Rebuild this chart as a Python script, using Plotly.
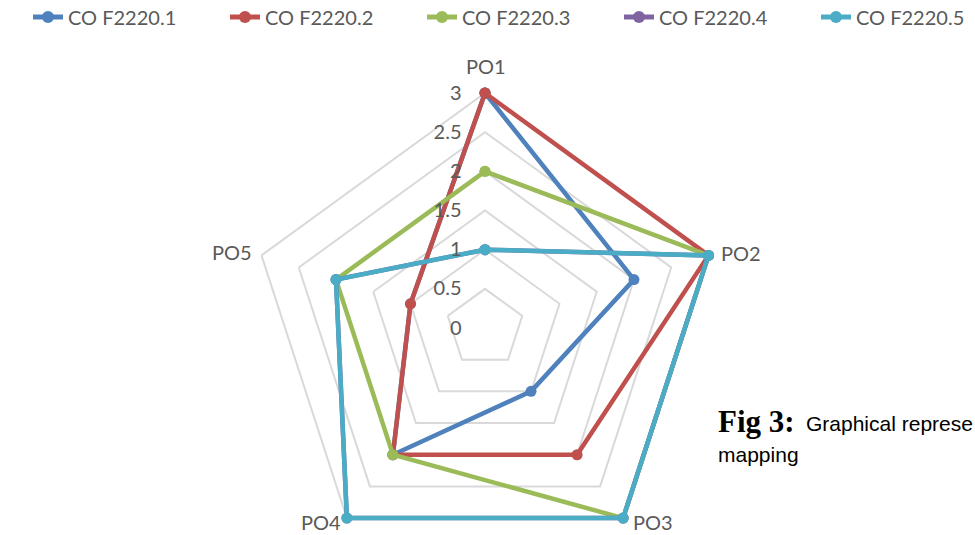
import math
import plotly.graph_objects as go

categories = ["PO1", "PO2", "PO3", "PO4", "PO5"]
series_names = ["CO F2220.1", "CO F2220.2", "CO F2220.3", "CO F2220.4", "CO F2220.5"]
co1 = [3, 2, 1, 2, 1]
co2 = [3, 3, 2, 2, 1]
co3 = [2, 3, 3, 2, 2]
co4 = [1, 3, 3, 3, 2]
co5 = [1, 3, 3, 3, 2]
radial_ticks = [0, 0.5, 1, 1.5, 2, 2.5, 3]
colors = ["#4F81BD", "#C0504D", "#9BBB59", "#8064A2", "#4BACC6"]

W, H = 1060, 570             # figure (window clips at 975x535)
RMAX = 3.06                  # a little headroom so lines on the outer ring are not clipped
CX, CY, R = 485, 328, 235    # R = pixel radius of value 3
RO = R * RMAX / 3
T = round(CY - RO)
B = H - round(CY + RO)
FONT = "Lato"
GREY = "#595959"

fig = go.Figure()
for name, vals, col in zip(series_names, [co1, co2, co3, co4, co5], colors):
    fig.add_trace(go.Scatterpolar(
        r=vals + vals[:1], theta=categories + categories[:1], name=name,
        mode="lines+markers", cliponaxis=False,
        line=dict(color=col, width=4.5),
        marker=dict(color=col, size=11),
    ))

ph = H - T - B
def px_x(x):
    return x / W
def px_y(y):
    return 1 - (y - T) / ph

fig.update_layout(
    width=W, height=H,
    margin=dict(l=0, r=0, t=T, b=B, autoexpand=False),
    paper_bgcolor="white",
    font=dict(family=FONT, size=20, color=GREY),
    showlegend=True,
    legend=dict(orientation="h", x=px_x(28), xanchor="left", yref="paper", y=px_y(17),
                yanchor="middle", entrywidth=152, entrywidthmode="pixels",
                font=dict(size=20, color=GREY), itemsizing="constant"),
    polar=dict(
        domain=dict(x=[(CX - RO) / W, (CX + RO) / W], y=[0, 1]),
        bgcolor="white",
        gridshape="linear",
        radialaxis=dict(range=[0, RMAX], tickvals=radial_ticks, ticktext=[str(v) for v in radial_ticks],
                        angle=90, side="counterclockwise", showline=False,
                        gridcolor="#D9D9D9", gridwidth=1.5,
                        ticks="outside", ticklen=16, tickcolor="rgba(0,0,0,0)",
                        tickfont=dict(family=FONT, size=20, color=GREY), tickangle=90),
        angularaxis=dict(rotation=90, direction="clockwise", showgrid=False,
                         showline=False, ticks="", showticklabels=False),
    ),
)

# category labels placed next to the pentagon vertices
label_style = [  # (dx, dy, xanchor)
    (1, -27, "center"),
    (11, -2, "left"),
    (8, 4, "left"),
    (-4, 4, "right"),
    (-8, -3, "right"),
]
for i, cat in enumerate(categories):
    ang = math.radians(90 - 72 * i)
    vx = CX + R * math.cos(ang)
    vy = CY - R * math.sin(ang)
    dx, dy, xa = label_style[i]
    fig.add_annotation(x=px_x(vx + dx), y=px_y(vy + dy), xref="paper", yref="paper",
                       xanchor=xa, yanchor="middle", text=cat, showarrow=False,
                       font=dict(family=FONT, size=20, color=GREY))

fig.add_annotation(x=px_x(716), y=px_y(421), xref="paper", yref="paper", xanchor="left",
                   yanchor="middle", text="<b>Fig 3:</b>", showarrow=False,
                   font=dict(family="Liberation Serif", size=31, color="black"))
fig.add_annotation(x=px_x(804), y=px_y(423), xref="paper", yref="paper", xanchor="left",
                   yanchor="middle", text="Graphical represe", showarrow=False,
                   font=dict(family="Liberation Sans", size=21, color="black"))
fig.add_annotation(x=px_x(716), y=px_y(454), xref="paper", yref="paper", xanchor="left",
                   yanchor="middle", text="mapping", showarrow=False,
                   font=dict(family="Liberation Sans", size=21, color="black"))

fig.write_html("out.html", config={"displayModeBar": False},
               post_script="document.body.style.margin='0';document.body.style.overflow='hidden';")
